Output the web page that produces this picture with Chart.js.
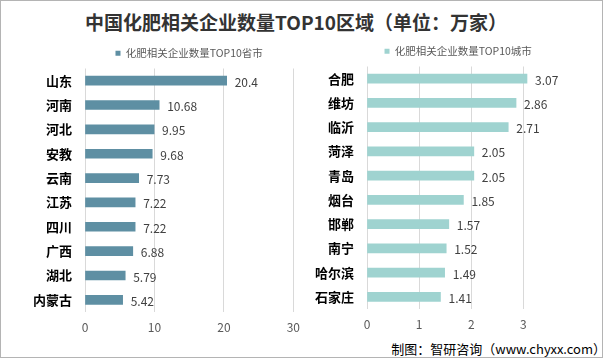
<!DOCTYPE html>
<html><head><meta charset="utf-8">
<script src="https://cdn.jsdelivr.net/npm/chart.js@4/dist/chart.umd.min.js"></script>
<style>
html,body{margin:0;padding:0;background:#fff;}
#wrap{position:relative;width:603px;height:360px;overflow:hidden;background:#fff;font-family:"Noto Sans CJK SC",sans-serif;}
#frame{position:absolute;left:0;top:0;width:601px;height:356px;border:1px solid #b4b4b4;}
#title{position:absolute;left:0;width:592px;top:10px;line-height:24px;text-align:center;font-size:19px;font-weight:bold;color:#333;white-space:nowrap;}
.box{position:absolute;}
#footer{position:absolute;right:-3px;top:340px;line-height:18px;font-size:13px;color:#000;white-space:nowrap;}
</style></head>
<body>
<div id="wrap">
  <div id="frame"></div>
  <div id="title">中国化肥相关企业数量TOP10区域（单位：万家）</div>
  <div class="box" style="left:0;top:38px;width:300px;height:302px;"><canvas id="c1" width="300" height="302"></canvas></div>
  <div class="box" style="left:300px;top:36px;width:303px;height:301px;"><canvas id="c2" width="303" height="301"></canvas></div>
  <div id="footer">制图：智研咨询（www.chyxx.com）</div>
</div>
<script>
// ---- data ----
const provinces = ['山东','河南','河北','安教','云南','江苏','四川','广西','湖北','内蒙古'];
const provinceValues = [20.4, 10.68, 9.95, 9.68, 7.73, 7.22, 7.22, 6.88, 5.79, 5.42];
const provinceTicks = [0, 10, 20, 30];
const cities = ['合肥','维坊','临沂','菏泽','青岛','烟台','邯郸','南宁','哈尔滨','石家庄'];
const cityValues = [3.07, 2.86, 2.71, 2.05, 2.05, 1.85, 1.57, 1.52, 1.49, 1.41];
const cityTicks = [0, 1, 2, 3];
const provinceSeries = '化肥相关企业数量TOP10省市';
const citySeries = '化肥相关企业数量TOP10城市';

Chart.defaults.font.family = '"Noto Sans CJK SC", "Noto Sans", sans-serif';
Chart.defaults.devicePixelRatio = 1;

const valueLabels = {
  id: 'valueLabels',
  afterDatasetsDraw(chart) {
    const ctx = chart.ctx;
    const meta = chart.getDatasetMeta(0);
    const data = chart.data.datasets[0].data;
    ctx.save();
    ctx.font = '12px "Noto Sans CJK SC", sans-serif';
    ctx.fillStyle = '#404040';
    ctx.textBaseline = 'middle';
    ctx.textAlign = 'left';
    meta.data.forEach((bar, i) => {
      ctx.fillText(String(data[i]), bar.x + 8, bar.y + 1.5);
    });
    ctx.restore();
  }
};

function makeChart(id, labels, values, label, color, xMax, ticks, yWidth, padRight) {
  return new Chart(document.getElementById(id), {
    type: 'bar',
    data: {
      labels: labels,
      datasets: [{ label: label, data: values, backgroundColor: color, borderWidth: 0, barThickness: 9 }]
    },
    options: {
      indexAxis: 'y',
      responsive: false,
      animation: false,
      layout: { padding: { left: 0, right: padRight, top: 0, bottom: 0 } },
      plugins: {
        legend: {
          position: 'top',
          fullSize: false,
          labels: { boxWidth: 5, boxHeight: 5, padding: 10, color: '#595959', font: { size: 10.5 } }
        },
        tooltip: { enabled: false }
      },
      scales: {
        x: {
          min: 0, max: xMax,
          afterBuildTicks(scale) { scale.ticks = ticks.map(v => ({ value: v })); },
          grid: { color: '#d9d9d9', drawTicks: true, tickLength: 8, tickColor: 'rgba(0,0,0,0)' },
          border: { display: false },
          ticks: { color: '#595959', font: { size: 12 }, padding: 0 },
          afterFit(scale) { scale.height = 28; }
        },
        y: {
          grid: { display: false, drawTicks: false },
          border: { display: false },
          ticks: { color: '#000', font: { size: 13, weight: 'bold' }, padding: 13 },
          afterFit(scale) { scale.width = yWidth; }
        }
      }
    },
    plugins: [valueLabels]
  });
}

makeChart('c1', provinces, provinceValues, provinceSeries, '#5e8fa3', 30, provinceTicks, 85, 0);
makeChart('c2', cities, cityValues, citySeries, '#9fd3d0', 3.5, cityTicks, 67, 53.6);
</script>
</body></html>
